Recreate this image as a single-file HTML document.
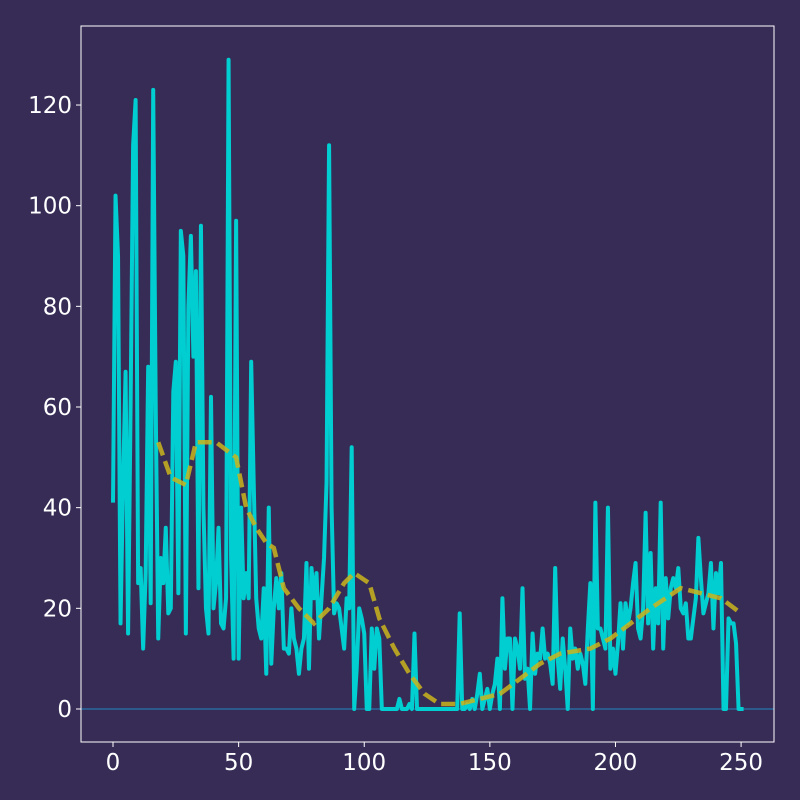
<!DOCTYPE html>
<html><head><meta charset="utf-8"><style>
html,body{margin:0;padding:0;background:#372c56;}
svg{display:block;}
text{font-family:"DejaVu Sans","Liberation Sans",sans-serif;fill:#ffffff;font-size:23px;}
</style></head><body>
<svg id="chart" width="800" height="800" xmlns="http://www.w3.org/2000/svg">
<rect x="0" y="0" width="800" height="800" fill="#372c56"/>
<g id="plot"></g>
<g id="axes"></g>
</svg>
<script>
const seriesValues = [41,102,90,17,45,67,15,60,112,121,25,28,12,27,68,21,123,60,14,30,25,36,19,20,63,69,23,95,90,15,80,94,70,87,24,96,40,20,15,62,20,25,36,17,16,22,129,30,10,97,10,40,22,27,22,69,45,22,16,14,24,7,40,9,20,26,20,27,12,12,11,20,14,12,7,12,14,29,8,28,22,27,14,22,30,45,112,40,19,21,20,16,12,22,20,52,0,8,20,18,15,0,0,16,8,16,14,0,0,0,0,0,0,0,2,0,0,0,1,0,15,0,0,0,0,0,0,0,0,0,0,0,0,0,0,0,0,0,19,0,0,1,0,2,0,3,7,0,2,4,0,3,5,10,0,22,8,14,14,0,14,12,8,24,6,8,0,15,7,11,10,16,10,11,9,5,28,10,4,14,8,0,16,10,12,8,11,9,5,16,25,0,41,16,16,14,12,40,8,12,7,13,21,12,21,17,20,25,29,16,14,20,39,17,31,12,24,17,41,12,26,18,24,26,24,28,20,19,21,14,14,18,22,34,26,19,21,23,29,16,27,23,29,0,0,18,17,17,13,0,0,0];
const avgX = [18,23,29,33,41,49,53,57,61,64,68,74,80,86,92,96,102,106,112,118,124,130,138,146,154,162,170,178,190,198,206,214,226,234,242,250];
const avgValues = [53,46,44.5,53,53,50,40,36,33,32,24,20,17,20,25,27,25,18,12,7,3,1,1,2,3,6,9,11,12,14,17,20,24,23,22,19];
const xTicks = [0,50,100,150,200,250];
const yTicks = [0,20,40,60,80,100,120];

const L=81,T=26,R=774,B=742;
const xMin=-12.74,xMax=263.1,yMin=-6.56,yMax=135.7;
function sx(v){return L+(v-xMin)/(xMax-xMin)*(R-L);}
function sy(v){return B-(v-yMin)/(yMax-yMin)*(B-T);}
const NS="http://www.w3.org/2000/svg";
const plot=document.getElementById('plot'),axes=document.getElementById('axes');
function mk(tag,attrs,parent){const e=document.createElementNS(NS,tag);for(const k in attrs)e.setAttribute(k,attrs[k]);parent.appendChild(e);return e;}

const zl=mk('line',{x1:L,x2:R,y1:sy(0),y2:sy(0),stroke:'#2c5a8c','stroke-width':2},plot);



let d='';seriesValues.forEach((v,i)=>{d+=(i?'L':'M')+sx(i).toFixed(2)+','+sy(v).toFixed(2);});
const ln=mk('path',{d:d,fill:'none',stroke:'#00ced1','stroke-width':4,'stroke-linejoin':'round'},plot);



let d2='';avgValues.forEach((v,i)=>{d2+=(i?'L':'M')+sx(avgX[i]).toFixed(2)+','+sy(v).toFixed(2);});
const av=mk('path',{d:d2,fill:'none',stroke:'#c9b51c','stroke-width':4.5,'stroke-dasharray':'14,6','stroke-opacity':0.85},plot);



const fr=mk('rect',{x:L,y:T,width:R-L,height:B-T,fill:'none',stroke:'#ffffff','stroke-width':1},axes);



xTicks.forEach(t=>{
  const x=sx(t);
  const tk=mk('line',{x1:x,x2:x,y1:B,y2:B+5,stroke:'#ffffff','stroke-width':1},axes);
  
  
  const tx=mk('text',{x:x,y:B+28,'text-anchor':'middle'},axes);
  tx.textContent=t;
  
  
});
yTicks.forEach(t=>{
  const y=sy(t);
  const tk=mk('line',{x1:L-5,x2:L,y1:y,y2:y,stroke:'#ffffff','stroke-width':1},axes);
  
  
  const tx=mk('text',{x:L-9,y:y+8,'text-anchor':'end'},axes);
  tx.textContent=t;
  
  
});
</script>
</body></html>
